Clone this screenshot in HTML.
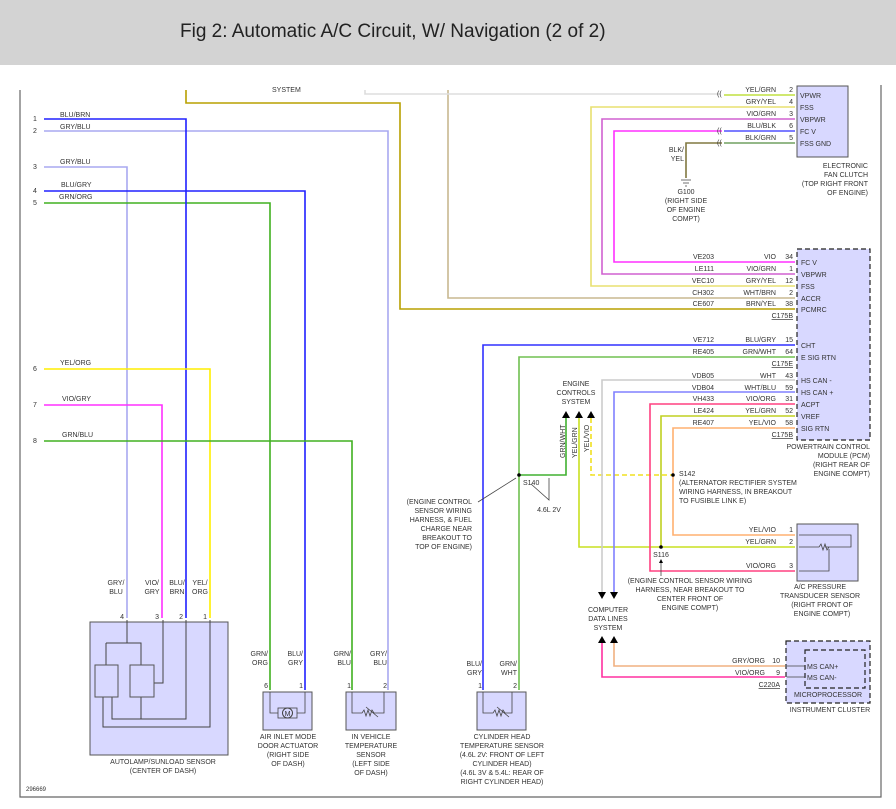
<!DOCTYPE html>
<html><head><meta charset="utf-8"><style>
body{margin:0;background:#fff}
svg{display:block}
text{font-family:"Liberation Sans",sans-serif;font-size:7px;fill:#333}
.w{fill:none;stroke-width:1.6}
.b{fill:#d8d8ff;stroke:#555;stroke-width:1}
.d{fill:#d8d8ff;stroke:#222;stroke-width:1.2;stroke-dasharray:5,3}
.r{text-anchor:end}.m{text-anchor:middle}
.t{fill:none;stroke:#444;stroke-width:0.8}
</style></head><body>
<svg width="896" height="809" viewBox="0 0 896 809" xmlns="http://www.w3.org/2000/svg">
<rect x="0" y="0" width="896" height="65" fill="#d3d3d3"/>
<text x="180" y="37" style="font-size:19px;fill:#222">Fig 2: Automatic A/C Circuit, W/ Navigation (2 of 2)</text>
<path d="M20 90V797H881V85" class="t" style="stroke:#666;stroke-width:1.2"/>
<text x="272" y="92">SYSTEM</text>
<!-- top wires -->
<polyline class="w" stroke="#b8a000" points="186,90 186,103 400,103 400,309 795,309"/>
<polyline class="w" stroke="#c8b890" points="448,90 448,298 795,298"/>
<polyline class="w" stroke="#ddd" points="365,90 365,94 720,94"/>
<polyline class="w" stroke="#c0e040" points="724,95 795,95"/>
<polyline class="w" stroke="#e8e070" points="795,107 591,107 591,286 795,286"/>
<polyline class="w" stroke="#d060d0" points="795,119 602,119 602,274 795,274"/>
<polyline class="w" stroke="#ff30ff" points="722,131 614,131 614,262 795,262"/>
<polyline class="w" stroke="#5050ff" points="724,131 795,131"/>
<polyline class="w" stroke="#70a060" points="724,143 795,143"/>
<polyline class="w" stroke="#807840" points="722,143 686,143 686,178"/>
<text x="717" y="96">((</text><text x="717" y="133">((</text><text x="717" y="145">((</text>
<path d="M681 180h10M683 183h6M685 186h2" class="t"/>
<text x="686" y="194" class="m">G100</text><text x="686" y="203" class="m">(RIGHT SIDE</text><text x="686" y="212" class="m">OF ENGINE</text><text x="686" y="221" class="m">COMPT)</text>
<text x="684" y="152" class="r">BLK/</text><text x="684" y="161" class="r">YEL</text>
<!-- fan clutch -->
<rect x="797" y="86" width="51" height="71" class="b"/>
<g><text x="800" y="98">VPWR</text><text x="800" y="110">FSS</text><text x="800" y="122">VBPWR</text><text x="800" y="134">FC V</text><text x="800" y="146">FSS GND</text></g>
<g class="r"><text x="776" y="92" class="r">YEL/GRN</text><text x="776" y="104" class="r">GRY/YEL</text><text x="776" y="116" class="r">VIO/GRN</text><text x="776" y="128" class="r">BLU/BLK</text><text x="776" y="140" class="r">BLK/GRN</text>
<text x="793" y="92" class="r">2</text><text x="793" y="104" class="r">4</text><text x="793" y="116" class="r">3</text><text x="793" y="128" class="r">6</text><text x="793" y="140" class="r">5</text></g>
<text x="868" y="168" class="r">ELECTRONIC</text><text x="868" y="177" class="r">FAN CLUTCH</text><text x="868" y="186" class="r">(TOP RIGHT FRONT</text><text x="868" y="195" class="r">OF ENGINE)</text>
<!-- PCM -->
<rect x="797" y="249" width="73" height="191" class="d"/>
<g><text x="801" y="265">FC V</text><text x="801" y="277">VBPWR</text><text x="801" y="289">FSS</text><text x="801" y="301">ACCR</text><text x="801" y="312">PCMRC</text>
<text x="801" y="348">CHT</text><text x="801" y="360">E SIG RTN</text><text x="801" y="383">HS CAN -</text><text x="801" y="395">HS CAN +</text><text x="801" y="407">ACPT</text><text x="801" y="419">VREF</text><text x="801" y="431">SIG RTN</text></g>
<g>
<text x="714" y="259" class="r">VE203</text><text x="776" y="259" class="r">VIO</text><text x="793" y="259" class="r">34</text>
<text x="714" y="271" class="r">LE111</text><text x="776" y="271" class="r">VIO/GRN</text><text x="793" y="271" class="r">1</text>
<text x="714" y="283" class="r">VEC10</text><text x="776" y="283" class="r">GRY/YEL</text><text x="793" y="283" class="r">12</text>
<text x="714" y="295" class="r">CH302</text><text x="776" y="295" class="r">WHT/BRN</text><text x="793" y="295" class="r">2</text>
<text x="714" y="306" class="r">CE607</text><text x="776" y="306" class="r">BRN/YEL</text><text x="793" y="306" class="r">38</text>
<text x="793" y="318" class="r" style="text-decoration:underline">C175B</text>
<text x="714" y="342" class="r">VE712</text><text x="776" y="342" class="r">BLU/GRY</text><text x="793" y="342" class="r">15</text>
<text x="714" y="354" class="r">RE405</text><text x="776" y="354" class="r">GRN/WHT</text><text x="793" y="354" class="r">64</text>
<text x="793" y="366" class="r" style="text-decoration:underline">C175E</text>
<text x="714" y="378" class="r">VDB05</text><text x="776" y="378" class="r">WHT</text><text x="793" y="378" class="r">43</text>
<text x="714" y="390" class="r">VDB04</text><text x="776" y="390" class="r">WHT/BLU</text><text x="793" y="390" class="r">59</text>
<text x="714" y="401" class="r">VH433</text><text x="776" y="401" class="r">VIO/ORG</text><text x="793" y="401" class="r">31</text>
<text x="714" y="413" class="r">LE424</text><text x="776" y="413" class="r">YEL/GRN</text><text x="793" y="413" class="r">52</text>
<text x="714" y="425" class="r">RE407</text><text x="776" y="425" class="r">YEL/VIO</text><text x="793" y="425" class="r">58</text>
<text x="793" y="437" class="r" style="text-decoration:underline">C175B</text>
</g>
<text x="870" y="449" class="r">POWERTRAIN CONTROL</text><text x="870" y="458" class="r">MODULE (PCM)</text><text x="870" y="467" class="r">(RIGHT REAR OF</text><text x="870" y="476" class="r">ENGINE COMPT)</text>
<!-- PCM lower wires -->
<polyline class="w" stroke="#3030ff" points="795,345 483,345 483,690"/>
<polyline class="w" stroke="#70c050" points="795,357 519,357 519,690"/>
<polyline class="w" stroke="#40b030" points="519,475 566,475 566,418"/>
<polyline class="w" stroke="#c8e020" points="579,418 579,547 795,547"/>
<polyline class="w" stroke="#f0e020" stroke-dasharray="5,3" points="591,418 591,475 673,475"/>
<polyline class="w" stroke="#ffb070" points="795,428 673,428 673,535 795,535"/>
<polyline class="w" stroke="#ccc" points="795,380 602,380 602,592"/>
<polyline class="w" stroke="#8080ff" points="795,392 614,392 614,592"/>
<polyline class="w" stroke="#ff4080" points="795,404 650,404 650,571 795,571"/>
<polyline class="w" stroke="#c0d020" points="795,416 661,416 661,547"/>
<circle cx="519" cy="475" r="1.8" fill="#000"/><circle cx="673" cy="475" r="1.8" fill="#000"/><circle cx="661" cy="547" r="1.8" fill="#000"/>
<path d="M562 418l4-7 4 7zM575 418l4-7 4 7zM587 418l4-7 4 7z" fill="#000"/>
<text x="576" y="386" class="m">ENGINE</text><text x="576" y="395" class="m">CONTROLS</text><text x="576" y="404" class="m">SYSTEM</text>
<text transform="translate(565,458) rotate(-90)">GRN/WHT</text><text transform="translate(577,458) rotate(-90)">YEL/GRN</text><text transform="translate(589,452) rotate(-90)">YEL/VIO</text>
<text x="523" y="485">S140</text>
<path d="M549 478V500l-18-16M478 502l38-24" class="t"/>
<text x="549" y="512" class="m">4.6L 2V</text>
<text x="679" y="476">S142</text><text x="679" y="485">(ALTERNATOR RECTIFIER SYSTEM</text><text x="679" y="494">WIRING HARNESS, IN BREAKOUT</text><text x="679" y="503">TO FUSIBLE LINK E)</text>
<text x="472" y="504" class="r">(ENGINE CONTROL</text><text x="472" y="513" class="r">SENSOR WIRING</text><text x="472" y="522" class="r">HARNESS, &amp; FUEL</text><text x="472" y="531" class="r">CHARGE NEAR</text><text x="472" y="540" class="r">BREAKOUT TO</text><text x="472" y="549" class="r">TOP OF ENGINE)</text>
<text x="661" y="557" class="m">S116</text>
<path d="M661 576V562" class="t"/><path d="M659 563l2-4 2 4z" fill="#000"/>
<text x="690" y="583" class="m">(ENGINE CONTROL SENSOR WIRING</text><text x="690" y="592" class="m">HARNESS, NEAR BREAKOUT TO</text><text x="690" y="601" class="m">CENTER FRONT OF</text><text x="690" y="610" class="m">ENGINE COMPT)</text>
<path d="M598 592l4 7 4-7zM610 592l4 7 4-7z" fill="#000"/>
<text x="608" y="612" class="m">COMPUTER</text><text x="608" y="621" class="m">DATA LINES</text><text x="608" y="630" class="m">SYSTEM</text>
<path d="M598 643l4-7 4 7zM610 643l4-7 4 7z" fill="#000"/>
<polyline class="w" stroke="#f0b080" points="614,643 614,666 785,666"/>
<polyline class="w" stroke="#ff30a0" points="602,643 602,677 785,677"/>
<!-- A/C sensor -->
<rect x="797" y="524" width="61" height="57" class="b"/>
<path d="M799 535h52v12h-26M799 547h20l2-3 2 6 2-6 2 6 2-3h3M829 549v22h-30" class="t"/>
<text x="776" y="532" class="r">YEL/VIO</text><text x="793" y="532" class="r">1</text>
<text x="776" y="544" class="r">YEL/GRN</text><text x="793" y="544" class="r">2</text>
<text x="776" y="568" class="r">VIO/ORG</text><text x="793" y="568" class="r">3</text>
<text x="820" y="589" class="m">A/C PRESSURE</text><text x="820" y="598" class="m">TRANSDUCER SENSOR</text><text x="822" y="607" class="m">(RIGHT FRONT OF</text><text x="822" y="616" class="m">ENGINE COMPT)</text>
<!-- cluster -->
<rect x="786" y="641" width="84" height="62" class="d"/>
<rect x="805" y="650" width="60" height="38" class="d"/>
<path d="M787 666h18M787 677h18" class="t"/>
<text x="807" y="669">MS CAN+</text><text x="807" y="680">MS CAN-</text>
<text x="828" y="697" class="m">MICROPROCESSOR</text><text x="830" y="712" class="m">INSTRUMENT CLUSTER</text>
<text x="765" y="663" class="r">GRY/ORG</text><text x="780" y="663" class="r">10</text>
<text x="765" y="675" class="r">VIO/ORG</text><text x="780" y="675" class="r">9</text>
<text x="780" y="687" class="r" style="text-decoration:underline">C220A</text>
<!-- left wires -->
<g>
<text x="33" y="121">1</text><text x="33" y="133">2</text><text x="33" y="169">3</text><text x="33" y="193">4</text><text x="33" y="205">5</text><text x="33" y="371">6</text><text x="33" y="407">7</text><text x="33" y="443">8</text>
<text x="60" y="117">BLU/BRN</text><text x="60" y="129">GRY/BLU</text><text x="60" y="164">GRY/BLU</text><text x="61" y="187">BLU/GRY</text><text x="59" y="199">GRN/ORG</text>
<text x="60" y="365">YEL/ORG</text><text x="62" y="401">VIO/GRY</text><text x="62" y="437">GRN/BLU</text>
</g>
<polyline class="w" stroke="#a8a8f0" points="44,131 388,131 388,690"/>
<polyline class="w" stroke="#a8a8f0" points="44,167 127,167 127,618"/>
<polyline class="w" stroke="#2020ff" points="44,191 305,191 305,690"/>
<polyline class="w" stroke="#40b020" points="44,203 270,203 270,690"/>
<polyline class="w" stroke="#2020ff" points="44,119 186,119 186,618"/>
<polyline class="w" stroke="#ffee00" points="44,369 210,369 210,618"/>
<polyline class="w" stroke="#ff30ff" points="44,405 162,405 162,618"/>
<polyline class="w" stroke="#40b020" points="44,441 352,441 352,690"/>
<!-- autolamp -->
<g class="m"><text x="116" y="585" class="m">GRY/</text><text x="116" y="594" class="m">BLU</text><text x="152" y="585" class="m">VIO/</text><text x="152" y="594" class="m">GRY</text><text x="177" y="585" class="m">BLU/</text><text x="177" y="594" class="m">BRN</text><text x="200" y="585" class="m">YEL/</text><text x="200" y="594" class="m">ORG</text></g>
<text x="124" y="619" class="r">4</text><text x="159" y="619" class="r">3</text><text x="183" y="619" class="r">2</text><text x="207" y="619" class="r">1</text>
<rect x="90" y="622" width="138" height="133" class="b"/>
<path d="M127 620v23M106 643h35v22M106 643v22M112 697v22h74V620M141 697v22M103 697v30h107V620M153 683h10V620" class="t" style="stroke-width:1"/>
<rect x="95" y="665" width="23" height="32" class="b"/><rect x="130" y="665" width="24" height="32" class="b"/>
<text x="163" y="764" class="m">AUTOLAMP/SUNLOAD SENSOR</text><text x="163" y="773" class="m">(CENTER OF DASH)</text>
<text x="26" y="791" style="font-size:6px">296669</text>
<!-- air inlet -->
<text x="268" y="656" class="r">GRN/</text><text x="268" y="665" class="r">ORG</text><text x="303" y="656" class="r">BLU/</text><text x="303" y="665" class="r">GRY</text>
<text x="268" y="688" class="r">6</text><text x="303" y="688" class="r">1</text>
<rect x="263" y="692" width="49" height="38" class="b"/>
<path d="M270 692v21h8M305 692v21h-8" class="t"/><rect x="278" y="708" width="19" height="10" class="t"/><circle cx="287.5" cy="713" r="5" fill="#d8d8ff" stroke="#444"/>
<text x="287.5" y="716" class="m">M</text>
<text x="288" y="739" class="m">AIR INLET MODE</text><text x="288" y="748" class="m">DOOR ACTUATOR</text><text x="288" y="757" class="m">(RIGHT SIDE</text><text x="288" y="766" class="m">OF DASH)</text>
<!-- in vehicle -->
<text x="351" y="656" class="r">GRN/</text><text x="351" y="665" class="r">BLU</text><text x="387" y="656" class="r">GRY/</text><text x="387" y="665" class="r">BLU</text>
<text x="351" y="688" class="r">1</text><text x="387" y="688" class="r">2</text>
<rect x="346" y="692" width="50" height="38" class="b"/>
<path d="M352 692v21h10l2-3 2 6 2-6 2 6 2-6 2 3h10v-21M366 707l12 10" class="t"/>
<text x="371" y="739" class="m">IN VEHICLE</text><text x="371" y="748" class="m">TEMPERATURE</text><text x="371" y="757" class="m">SENSOR</text><text x="371" y="766" class="m">(LEFT SIDE</text><text x="371" y="775" class="m">OF DASH)</text>
<!-- cylinder head -->
<text x="482" y="666" class="r">BLU/</text><text x="482" y="675" class="r">GRY</text><text x="517" y="666" class="r">GRN/</text><text x="517" y="675" class="r">WHT</text>
<text x="482" y="688" class="r">1</text><text x="517" y="688" class="r">2</text>
<rect x="477" y="692" width="49" height="38" class="b"/>
<path d="M483 692v21h10l2-3 2 6 2-6 2 6 2-6 2 3h7v-21M497 707l12 10" class="t"/>
<text x="502" y="739" class="m">CYLINDER HEAD</text><text x="502" y="748" class="m">TEMPERATURE SENSOR</text><text x="502" y="757" class="m">(4.6L 2V: FRONT OF LEFT</text><text x="502" y="766" class="m">CYLINDER HEAD)</text><text x="502" y="775" class="m">(4.6L 3V &amp; 5.4L: REAR OF</text><text x="502" y="784" class="m">RIGHT CYLINDER HEAD)</text>
</svg>
</body></html>
